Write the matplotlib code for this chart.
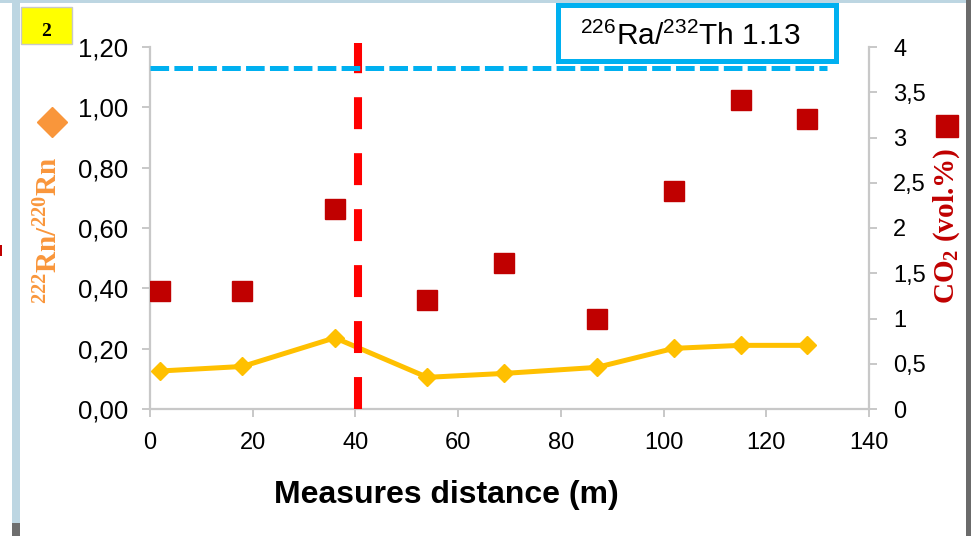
import matplotlib
matplotlib.use("Agg")
import matplotlib.pyplot as plt
from matplotlib.patches import Rectangle
from matplotlib.lines import Line2D

plt.rcParams['font.family'] = ['Liberation Sans', 'DejaVu Sans']
plt.rcParams['mathtext.fontset'] = 'custom'
plt.rcParams['mathtext.rm'] = 'Liberation Sans'
plt.rcParams['mathtext.bf'] = 'Liberation Serif:bold'
plt.rcParams['lines.scale_dashes'] = False

# Measurement positions along the profile (m)
distance = [2, 18, 36, 54, 69, 87, 102, 115, 128]
# 222Rn/220Rn activity ratio (left axis)
rn_ratio = [0.126, 0.141, 0.236, 0.105, 0.118, 0.138, 0.201, 0.211, 0.211]
# Soil CO2 concentration, vol.% (right axis)
co2 = [1.3, 1.3, 2.21, 1.2, 1.61, 1.0, 2.41, 3.41, 3.2]

ra_th = 1.13           # 226Ra/232Th reference ratio
fault_position = 40.5  # position of the fault trace (m)
ra_th_extent = 131.8

x_ticks = [0, 20, 40, 60, 80, 100, 120, 140]
left_ticks = [0.0, 0.2, 0.4, 0.6, 0.8, 1.0, 1.2]
left_labels = ['0,00', '0,20', '0,40', '0,60', '0,80', '1,00', '1,20']
right_ticks = [0, 0.5, 1, 1.5, 2, 2.5, 3, 3.5, 4]
right_labels = ['0', '0,5', '1', '1,5', '2', '2,5', '3', '3,5', '4']

W, H = 971, 536
fig = plt.figure(figsize=(W / 100, H / 100), dpi=100)

# frame decorations around the panel
fig.patches.append(Rectangle((12 / W, 13 / H), 8 / W, 1 - 13 / H, transform=fig.transFigure,
                             facecolor='#BDD6E2', edgecolor='none'))
fig.patches.append(Rectangle((12 / W, 0), 8 / W, 13 / H, transform=fig.transFigure,
                             facecolor='#6E6E6E', edgecolor='none'))
fig.patches.append(Rectangle((0, 1 - 3 / H), 1, 3 / H, transform=fig.transFigure,
                             facecolor='#BDD6E2', edgecolor='none'))
fig.patches.append(Rectangle((966 / W, 0), 5 / W, 1, transform=fig.transFigure,
                             facecolor='#6B6B6B', edgecolor='none'))
fig.patches.append(Rectangle((0, 1 - 256 / H), 2 / W, 11 / H, transform=fig.transFigure,
                             facecolor='#C00000', edgecolor='none'))

ax_l, ax_r, ax_b, ax_t = 150, 869, 409, 47
ax1 = fig.add_axes([ax_l / W, 1 - ax_b / H, (ax_r - ax_l) / W, (ax_b - ax_t) / H])
ax2 = ax1.twinx()

grey = '#C8C8C8'
ax1.set_xlim(0, 140)
ax1.set_ylim(0, 1.2)
ax2.set_ylim(0, 4)

for s in ['top', 'right']:
    ax1.spines[s].set_visible(False)
for s in ['top', 'left', 'bottom']:
    ax2.spines[s].set_visible(False)
for sp in [ax1.spines['left'], ax1.spines['bottom'], ax2.spines['right']]:
    sp.set_color(grey)
    sp.set_linewidth(1.6)

ax1.set_xticks(x_ticks)
ax1.set_xticklabels([str(v) for v in x_ticks])
ax1.set_yticks(left_ticks)
ax1.set_yticklabels(left_labels)
ax2.set_yticks(right_ticks)
ax2.set_yticklabels(right_labels)

ax1.tick_params(axis='x', length=5.8, width=1.4, color=grey, labelsize=17, pad=11)
ax1.tick_params(axis='y', length=5.8, width=1.4, color=grey, labelsize=18.5, pad=10)
ax2.tick_params(axis='y', length=5.8, width=1.4, color=grey, labelsize=17, pad=11.5)

# Rn ratio profile
ax1.plot(distance, rn_ratio, color='#FFC000', lw=3.6, marker='D', ms=9.5,
         mec='#FFC000', mfc='#FFC000', zorder=3)

# reference Ra/Th level
ax1.plot([0, ra_th_extent], [ra_th, ra_th], color='#00B0F0', lw=3.6,
         dashes=(13.4, 3.8), zorder=5, clip_on=False)

# fault trace
ax1.plot([fault_position, fault_position], [0, 1.212], color='#FF0000', lw=5.8,
         dashes=(23.0, 17.3), zorder=4, clip_on=False)

# CO2 concentrations
ax2.plot(distance, co2, linestyle='none', marker='s', ms=13.7,
         mfc='#C00000', mec='#C00000', zorder=3)

# axis titles
fig.text(446 / W, 1 - 503 / H, 'Measures distance (m)', fontsize=23,
         fontweight='bold', ha='center', va='baseline')

fig.text(49 / W, 1 - 230 / H, r'$\mathbf{^{222}Rn/^{220}Rn}$', fontsize=21,
         color='#F9963B', rotation=90, ha='center', va='center')
fig.lines.append(Line2D([52 / W], [1 - 122 / H], transform=fig.transFigure,
                        marker='D', ms=15.5, mfc='#F9963B', mec='#F9963B',
                        linestyle='none'))

fig.text(947 / W, 1 - 226 / H, r'CO$_{\mathbf{2}}$ (vol.%)', fontsize=21,
         family='Liberation Serif', fontweight='bold',
         color='#C00000', rotation=90, ha='center', va='center')
fig.lines.append(Line2D([947 / W], [1 - 126 / H], transform=fig.transFigure,
                        marker='s', ms=16.5, mfc='#C00000', mec='#C00000',
                        linestyle='none'))

# Ra/Th annotation box
fig.patches.append(Rectangle((557.5 / W, 1 - 60.5 / H), 278 / W, 55 / H,
                             transform=fig.transFigure, facecolor='white',
                             edgecolor='#00B0F0', linewidth=3.6))
fig.text(690 / W, 1 - 45 / H, r'$^{226}$Ra/$^{232}$Th ' + f'{ra_th:.2f}',
         fontsize=21.5, ha='center', va='baseline')

# panel number tag
fig.patches.append(Rectangle((21 / W, 1 - 44 / H), 51 / W, 37 / H, transform=fig.transFigure,
                             facecolor='#FFFF00', edgecolor='#C8C8C8', linewidth=1))
fig.text(46 / W, 1 - 32 / H, '2', fontsize=14, fontweight='bold',
         family='Liberation Serif', ha='center', va='center')

fig.savefig('out.png', dpi=100)
